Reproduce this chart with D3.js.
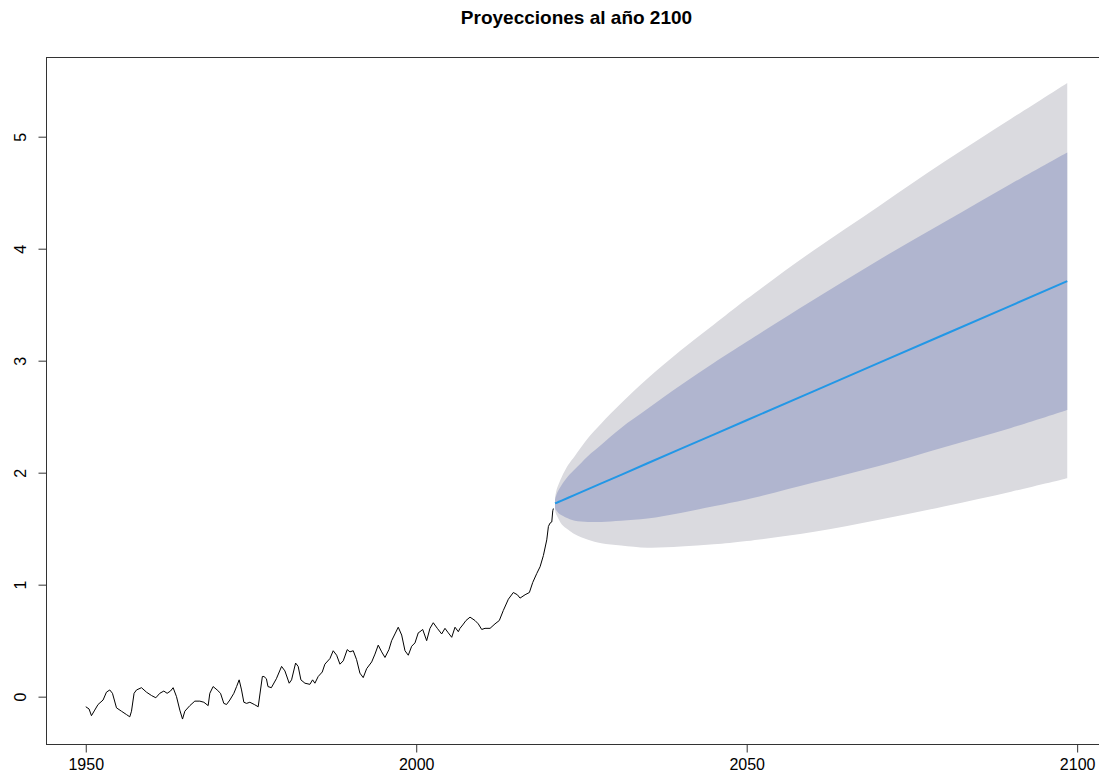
<!DOCTYPE html>
<html>
<head>
<meta charset="utf-8">
<script src="https://cdn.jsdelivr.net/npm/d3@7"></script>
<style>
  html, body { margin: 0; padding: 0; background: #ffffff; }
  svg { display: block; font-family: "Liberation Sans", Arial, sans-serif; }
</style>
</head>
<body>
<svg id="chart" width="1099" height="783"></svg>
<script>
// ---------------- data ----------------
const chartTitle = "Proyecciones al año 2100";

const histYears = [
  1950.00, 1950.50, 1950.86, 1951.36, 1951.86, 1952.62, 1953.13, 1953.63, 1954.04, 1954.65,
  1955.40, 1956.16, 1956.66, 1956.92, 1957.31, 1957.68, 1958.43, 1959.19, 1959.95, 1960.60,
  1961.20, 1961.81, 1962.31, 1962.82, 1963.22, 1963.73, 1964.23, 1964.64, 1964.99, 1965.75,
  1966.50, 1967.26, 1967.87, 1968.52, 1968.77, 1969.27, 1969.88, 1970.39, 1970.89, 1971.30,
  1971.80, 1972.41, 1972.82, 1973.21, 1973.57, 1973.92, 1974.33, 1974.83, 1975.50, 1976.09,
  1976.72, 1976.96, 1977.33, 1977.57, 1978.08, 1978.84, 1979.63, 1980.13, 1980.78, 1981.14,
  1981.75, 1982.14, 1982.55, 1983.16, 1983.91, 1984.32, 1984.67, 1985.17, 1985.78, 1986.18,
  1986.94, 1987.44, 1987.96, 1988.46, 1988.96, 1989.56, 1989.97, 1990.47, 1990.98, 1991.48,
  1991.98, 1992.50, 1993.26, 1993.76, 1994.25, 1994.77, 1995.27, 1995.87, 1996.28, 1996.78,
  1997.28, 1997.80, 1998.30, 1998.80, 1999.31, 1999.81, 2000.31, 2000.57, 2000.98, 2001.58,
  2002.08, 2002.58, 2003.19, 2003.85, 2004.35, 2004.85, 2005.37, 2005.87, 2006.37, 2006.62,
  2007.03, 2007.53, 2008.14, 2008.89, 2009.39, 2009.91, 2010.41, 2011.17, 2011.92, 2012.57,
  2013.18, 2013.94, 2014.69, 2015.30, 2015.71, 2016.47, 2017.12, 2017.63, 2018.24, 2018.74,
  2019.24, 2019.75, 2020.00, 2020.25, 2020.51, 2020.66, 2020.75
];
const histValues = [
  -0.09, -0.11, -0.17, -0.12, -0.07, -0.03,  0.04,  0.06,  0.03, -0.10,
  -0.13, -0.16, -0.18, -0.13,  0.03,  0.06,  0.08,  0.04,  0.01, -0.01,
   0.03,  0.05,  0.03,  0.05,  0.08,  0.00, -0.12, -0.20, -0.13, -0.08,
  -0.04, -0.04, -0.05, -0.08,  0.03,  0.09,  0.06,  0.03, -0.06, -0.07,
  -0.03,  0.03,  0.09,  0.15,  0.06, -0.05, -0.06, -0.05, -0.07, -0.09,
   0.18,  0.18,  0.16,  0.09,  0.08,  0.16,  0.27,  0.23,  0.12,  0.15,
   0.30,  0.27,  0.15,  0.12,  0.11,  0.15,  0.12,  0.18,  0.22,  0.29,
   0.34,  0.41,  0.37,  0.29,  0.32,  0.42,  0.40,  0.41,  0.33,  0.21,
   0.17,  0.25,  0.31,  0.38,  0.46,  0.40,  0.35,  0.42,  0.50,  0.56,
   0.62,  0.55,  0.41,  0.37,  0.45,  0.48,  0.57,  0.58,  0.60,  0.50,
   0.61,  0.66,  0.61,  0.56,  0.61,  0.57,  0.53,  0.62,  0.58,  0.61,
   0.64,  0.68,  0.71,  0.68,  0.65,  0.60,  0.61,  0.61,  0.65,  0.68,
   0.77,  0.87,  0.93,  0.91,  0.88,  0.91,  0.93,  1.02,  1.10,  1.16,
   1.26,  1.40,  1.52,  1.55,  1.56,  1.66,  1.68
];

// forecast: point forecast with 80% and 95% intervals
const fcYears = [2021.0, 2021.1, 2021.25, 2021.5, 2022.0, 2023.0, 2024.0, 2026.0, 2028.0, 2031.0,
                 2035.0, 2040.0, 2045.0, 2050.0, 2060.0, 2070.0, 2080.0, 2090.0, 2098.5];
const fcMean  = [1.725, 1.728, 1.731, 1.738, 1.751, 1.776, 1.802, 1.853, 1.904, 1.981,
                 2.084, 2.212, 2.340, 2.468, 2.724, 2.980, 3.236, 3.492, 3.710];
const fcHi80  = [1.76, 1.78, 1.81, 1.84, 1.89, 1.97, 2.03, 2.15, 2.25, 2.40,
                 2.57, 2.78, 2.98, 3.17, 3.54, 3.90, 4.24, 4.58, 4.86];
const fcLo80  = [1.69, 1.67, 1.66, 1.64, 1.62, 1.59, 1.57, 1.56, 1.56, 1.57,
                 1.59, 1.64, 1.70, 1.76, 1.91, 2.06, 2.23, 2.40, 2.56];
const fcHi95  = [1.78, 1.81, 1.85, 1.89, 1.96, 2.07, 2.15, 2.31, 2.44, 2.62,
                 2.84, 3.09, 3.32, 3.55, 3.98, 4.38, 4.78, 5.16, 5.48];
const fcLo95  = [1.67, 1.64, 1.62, 1.59, 1.54, 1.49, 1.45, 1.40, 1.37, 1.35,
                 1.33, 1.34, 1.36, 1.39, 1.47, 1.58, 1.70, 1.83, 1.95];

const xTickValues = [1950, 2000, 2050, 2100];
const yTickValues = [0, 1, 2, 3, 4, 5];

// ---------------- layout ----------------
const svg = d3.select("#chart");
const plotLeft = 46.5, plotRight = 1106.5, plotTop = 57.5, plotBottom = 744.5;

// R-style 4% axis extension
function extend(lo, hi) { const r = hi - lo; return [lo - 0.04 * r, hi + 0.04 * r]; }
const xAll = histYears.concat(fcYears);
const yAll = histValues.concat(fcLo95, fcHi95);
const xScale = d3.scaleLinear().domain(extend(d3.min(xAll), d3.max(xAll))).range([plotLeft, plotRight]);
const yScale = d3.scaleLinear().domain(extend(d3.min(yAll), d3.max(yAll))).range([plotBottom, plotTop]);

const fc = fcYears.map((t, i) => ({t, m: fcMean[i], lo80: fcLo80[i], hi80: fcHi80[i], lo95: fcLo95[i], hi95: fcHi95[i]}));
const hist = histYears.map((t, i) => ({t, v: histValues[i]}));

const smooth = d3.curveCatmullRom.alpha(0.5);

// 95% band
svg.append("path")
  .datum(fc)
  .attr("fill", "#dadadf")
  .attr("d", d3.area().curve(smooth)
    .x(d => xScale(d.t)).y0(d => yScale(d.lo95)).y1(d => yScale(d.hi95)));
// 80% band
svg.append("path")
  .datum(fc)
  .attr("fill", "#b0b5cf")
  .attr("d", d3.area().curve(smooth)
    .x(d => xScale(d.t)).y0(d => yScale(d.lo80)).y1(d => yScale(d.hi80)));
// point forecast
svg.append("path")
  .datum(fc)
  .attr("fill", "none")
  .attr("stroke", "#2297e6")
  .attr("stroke-width", 2)
  .attr("d", d3.line().x(d => xScale(d.t)).y(d => yScale(d.m)));
// historical series
svg.append("path")
  .datum(hist)
  .attr("fill", "none")
  .attr("stroke", "#000")
  .attr("stroke-width", 1)
  .attr("stroke-linejoin", "round")
  .attr("d", d3.line().x(d => xScale(d.t)).y(d => yScale(d.v)));

// box
svg.append("rect")
  .attr("x", plotLeft).attr("y", plotTop)
  .attr("width", plotRight - plotLeft).attr("height", plotBottom - plotTop)
  .attr("fill", "none").attr("stroke", "#333").attr("stroke-width", 1);

// x axis
const xAxis = d3.axisBottom(xScale).tickValues(xTickValues).tickFormat(d3.format("d")).tickSize(8).tickPadding(6);
const gx = svg.append("g").attr("transform", `translate(0,${plotBottom})`).call(xAxis);
gx.select(".domain").remove();
gx.selectAll("line").attr("stroke", "#333");
gx.selectAll("text").attr("font-size", 16).attr("fill", "#000")
  .attr("font-family", "'Liberation Sans', Arial, sans-serif");

// y axis (labels rotated like R's las=0)
const yAxis = d3.axisLeft(yScale).tickValues(yTickValues).tickFormat(d3.format("d")).tickSize(8);
const gy = svg.append("g").attr("transform", `translate(${plotLeft},0)`).call(yAxis);
gy.select(".domain").remove();
gy.selectAll("line").attr("stroke", "#333");
gy.selectAll("text")
  .attr("x", null).attr("dy", null)
  .attr("transform", "translate(-21,0) rotate(-90)")
  .attr("text-anchor", "middle")
  .attr("font-size", 16).attr("fill", "#000")
  .attr("font-family", "'Liberation Sans', Arial, sans-serif");

// title
svg.append("text")
  .attr("x", (plotLeft + plotRight) / 2).attr("y", 24)
  .attr("text-anchor", "middle")
  .attr("font-size", 19).attr("font-weight", "bold")
  .attr("font-family", "'Liberation Sans', Arial, sans-serif")
  .text(chartTitle);
</script>
</body>
</html>
